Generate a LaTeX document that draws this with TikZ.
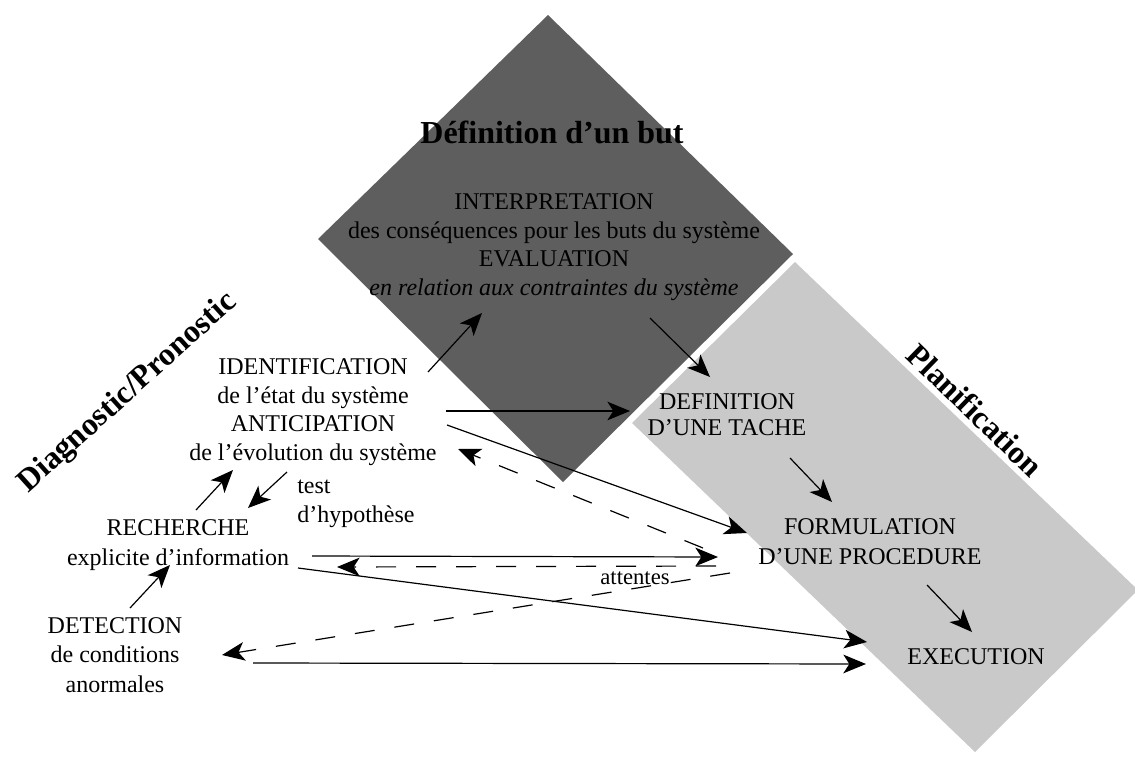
\documentclass[tikz,border=0pt]{standalone}
\usepackage{fontspec}
\setmainfont{Liberation Serif}
\usetikzlibrary{arrows.meta}
\definecolor{darkshade}{gray}{0.37}
\definecolor{lightshade}{gray}{0.79}
\begin{document}
\begin{tikzpicture}[x=0.75pt,y=-0.75pt,
  txt/.style={inner sep=0pt, align=center, font=\fontsize{18}{21.4}\selectfont},
  title/.style={inner sep=0pt, font=\fontsize{24}{28}\selectfont\bfseries},
  link/.style={line width=0.9pt, -{Stealth[length=17pt,width=14pt,inset=4.5pt]}},
  back/.style={link, dash pattern=on 15pt off 15pt},
]
\useasboundingbox (0,0) rectangle (1135,760);

% shaded zones: goal definition (diamond) and planning (band)
\fill[darkshade] (548,15) -- (793,254) -- (563,482) -- (318,239) -- cycle;
\fill[lightshade] (795,262) -- (1138,590) -- (975,752) -- (632,423) -- cycle;

% zone titles
\node[title] (but) at (552,132) {Définition d’un but};
\node[title, rotate=42] (diag) at (128,393) {Diagnostic/Pronostic};
\node[title, rotate=-44] (plan) at (975,410) {Planification};

% activities
\node[txt] (interp) at (554,247) {INTERPRETATION\\des conséquences pour les buts du système\\EVALUATION\\\textit{en relation aux contraintes du système}};
\node[txt] (ident) at (313,412) {IDENTIFICATION\\de l’état du système\\ANTICIPATION\\de l’évolution du système};
\node[txt, align=left, anchor=west] (test) at (297,504) {test\\d’hypothèse};
\node[txt, font=\fontsize{18}{22.5}\selectfont] (rech) at (178,545) {RECHERCHE\\explicite d’information};
\node[txt, font=\fontsize{18}{22}\selectfont] (detect) at (115,655) {DETECTION\\de conditions\\anormales};
\node[txt, font=\fontsize{18}{19.5}\selectfont] (tache) at (727,415) {DEFINITION\\D’UNE TACHE};
\node[txt, font=\fontsize{18}{22.5}\selectfont] (proc) at (870,542) {FORMULATION\\D’UNE PROCEDURE};
\node[txt] (exec) at (976,657) {EXECUTION};
\node[txt, font=\fontsize{17}{20}\selectfont] (att) at (635,578) {attentes};

% connector ends
\coordinate (a0) at (428,372);  \coordinate (a1) at (482,313);
\coordinate (b0) at (650,318);  \coordinate (b1) at (710,377);
\coordinate (c0) at (446,411);  \coordinate (c1) at (630,411);
\coordinate (d0) at (447,425);  \coordinate (d1) at (747,533);
\coordinate (e0) at (703,548);  \coordinate (e1) at (458,449);
\coordinate (f0) at (287,472);  \coordinate (f1) at (248,508);
\coordinate (g0) at (196,510);  \coordinate (g1) at (233,470);
\coordinate (h0) at (130,608);  \coordinate (h1) at (170,565);
\coordinate (i0) at (312,556);  \coordinate (i1) at (718,557);
\coordinate (j0) at (716,566);  \coordinate (j1) at (337,567);
\coordinate (k0) at (298,568);  \coordinate (k1) at (867,642);
\coordinate (l0) at (730,573);  \coordinate (l1) at (222,655);
\coordinate (m0) at (253,663);  \coordinate (m1) at (866,664);
\coordinate (n0) at (790,458);  \coordinate (n1) at (832,502);
\coordinate (o0) at (927,585);  \coordinate (o1) at (972,632);

% forward links
\draw[link] (a0) -- (a1);
\draw[link] (b0) -- (b1);
\draw[link] (c0) -- (c1);
\draw[link] (d0) -- (d1);
\draw[link] (f0) -- (f1);
\draw[link] (g0) -- (g1);
\draw[link] (h0) -- (h1);
\draw[link] (i0) -- (i1);
\draw[link] (k0) -- (k1);
\draw[link] (m0) -- (m1);
\draw[link] (n0) -- (n1);
\draw[link] (o0) -- (o1);

% feedback links (expectations)
\draw[back] (e0) -- (e1);
\draw[back] (j0) -- (j1);
\draw[back] (l0) -- (l1);
\end{tikzpicture}
\end{document}
